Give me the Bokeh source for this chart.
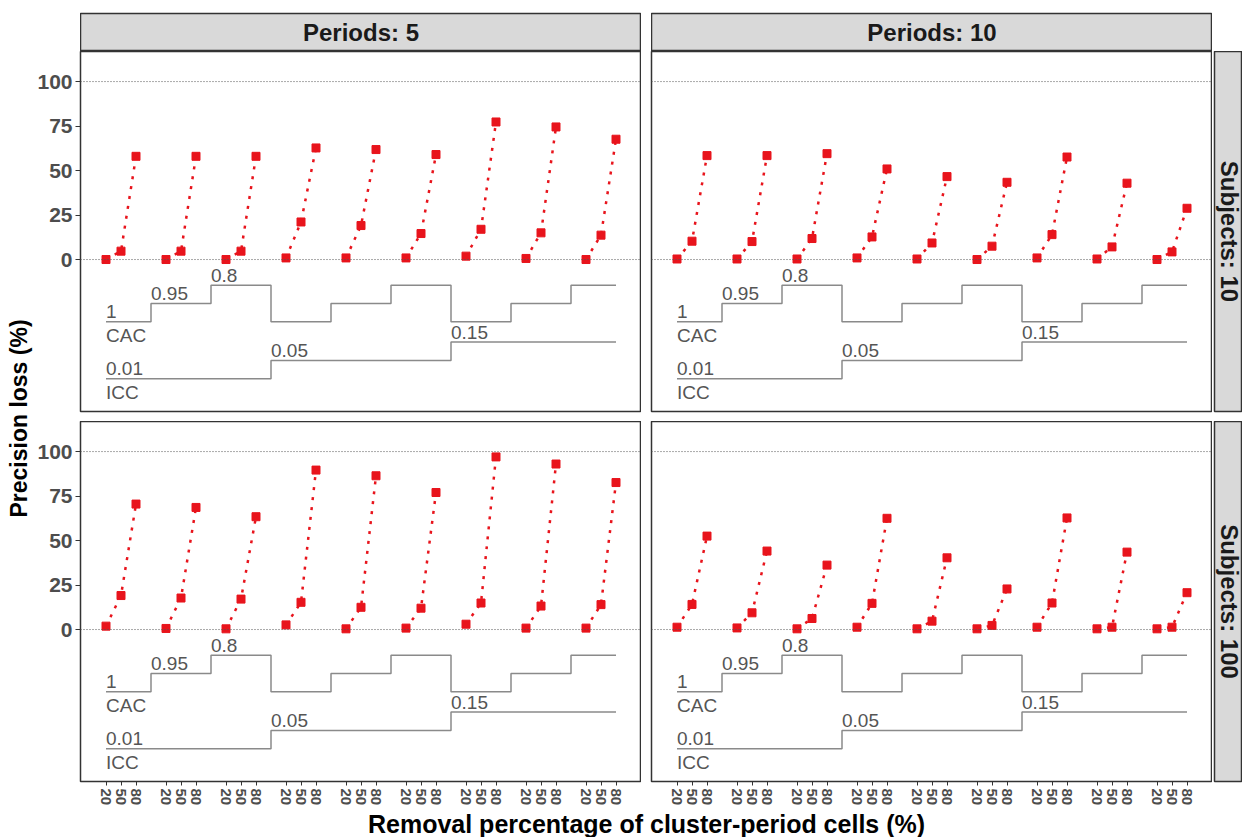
import math
from bokeh.plotting import figure
from bokeh.layouts import row, column, Spacer
from bokeh.models import FixedTicker, Span, Range1d
from bokeh.embed import file_html
from bokeh.resources import INLINE
from bokeh.core.properties import value

# ---------------- data ----------------
removal = ["20", "50", "80"]          # removal percentage of cluster-period cells
icc_values = ["0.01", "0.05", "0.15"]
cac_values = ["1", "0.95", "0.8"]
period_labels = ["Periods: 5", "Periods: 10"]
subject_labels = ["Subjects: 10", "Subjects: 100"]

# precision loss (%), ordered ICC (outer) x CAC (inner) x removal 20/50/80
loss_p5_s10 = [0.0, 4.7, 58.0,  0.0, 4.7, 58.0,  0.0, 4.7, 58.0,
               0.9, 21.1, 62.7, 0.9, 19.1, 61.8, 0.9, 14.6, 59.0,
               1.9, 17.0, 77.3, 0.6, 15.0, 74.5, 0.0, 13.7, 67.6]
loss_p10_s10 = [0.3, 10.3, 58.4, 0.3, 10.1, 58.4, 0.3, 11.8, 59.5,
                0.9, 12.7, 50.9, 0.3, 9.3, 46.6,  0.0, 7.5, 43.4,
                0.9, 14.0, 57.6, 0.3, 7.1, 42.9,  0.0, 4.3, 28.8]
loss_p5_s100 = [1.9, 19.1, 70.5, 0.6, 17.7, 68.6, 0.4, 17.1, 63.4,
                2.6, 15.3, 89.6, 0.4, 12.5, 86.4, 0.8, 12.0, 77.0,
                3.0, 14.9, 97.0, 0.8, 13.2, 93.0, 0.8, 14.0, 82.6]
loss_p10_s100 = [1.3, 14.1, 52.5, 0.9, 9.4, 44.1, 0.4, 6.2, 36.2,
                 1.3, 14.7, 62.5, 0.4, 4.7, 40.3, 0.4, 2.3, 22.8,
                 1.3, 14.9, 62.7, 0.4, 1.3, 43.5, 0.4, 1.3, 20.7]

# ---------------- layout / style constants ----------------
FONT = "Liberation Sans"
RED = "#e8141c"
N_IN = len(removal)
GROUP_W = N_IN + 1
n_groups = len(icc_values) * len(cac_values)
CAC_BASE, CAC_GAP = -35.0, 10.3
ICC_BASE, ICC_GAP = -67.0, 10.3
FW, FH = 561, 360
TOTAL_W, TOTAL_H = 1242, 837
YLAB_W = 33
LEFT_B = 80 - YLAB_W
TOP_H = 51
XLAB_H = 27

groups = [(i, c) for i in range(len(icc_values)) for c in range(len(cac_values))]
xpos = [GROUP_W * g + k for g in range(n_groups) for k in range(N_IN)]


def step_xy(levels, base, gap):
    xs = [0.0] + [GROUP_W * g - 1.0 for g in range(1, n_groups)] + [float(xpos[-1])]
    ys = [base + gap * l for l in levels] + [base + gap * levels[-1]]
    return xs, ys


def panel(loss, left_axis, bottom_axis, mb_left, mb_bottom):
    p = figure(frame_width=FW, frame_height=FH,
               x_range=Range1d(-1.7, xpos[-1] + 1.7), y_range=Range1d(-85.4, 116.9),
               output_backend="svg", toolbar_location=None,
               x_axis_location="below" if bottom_axis else None,
               y_axis_location="left" if left_axis else None,
               min_border_left=mb_left, min_border_right=0,
               min_border_top=0, min_border_bottom=mb_bottom)
    p.grid.visible = False
    p.outline_line_color = "#333333"
    p.outline_line_width = 1.5
    p.border_fill_color = "white"
    if left_axis:
        ax = p.yaxis[0]
        ax.ticker = FixedTicker(ticks=[0, 25, 50, 75, 100])
        ax.major_label_text_font = FONT
        ax.major_label_text_font_style = "bold"
        ax.major_label_text_font_size = "21px"
        ax.major_label_text_color = "#4d4d4d"
        ax.major_tick_out = 5
        ax.major_tick_in = 0
        ax.major_tick_line_color = "#333333"
        ax.minor_tick_line_color = None
        ax.axis_line_color = None
        ax.major_label_standoff = 3
    if bottom_axis:
        ax = p.xaxis[0]
        ax.ticker = FixedTicker(ticks=xpos)
        ax.major_label_overrides = {x: removal[i % N_IN] for i, x in enumerate(xpos)}
        ax.major_label_orientation = -math.pi / 2
        ax.major_label_text_font = FONT
        ax.major_label_text_font_style = "bold"
        ax.major_label_text_font_size = "15px"
        ax.major_label_text_color = "#4d4d4d"
        ax.major_tick_out = 4
        ax.major_tick_in = 0
        ax.major_tick_line_color = "#333333"
        ax.minor_tick_line_color = None
        ax.axis_line_color = None
        ax.major_label_standoff = 3
    for loc in (0, 100):
        p.add_layout(Span(location=loc, dimension="width", line_color="#555555",
                          line_dash="1 2", line_width=1))
    # step lines for the design parameters
    cx, cy = step_xy([c for _, c in groups], CAC_BASE, CAC_GAP)
    ix, iy = step_xy([i for i, _ in groups], ICC_BASE, ICC_GAP)
    p.step(cx, cy, mode="after", line_color="#8a8a8a", line_width=1.5)
    p.step(ix, iy, mode="after", line_color="#8a8a8a", line_width=1.5)
    # level labels (first occurrence of each value)
    lx, ly, lt = [], [], []
    for c in range(len(cac_values)):
        g = groups.index((0, c))
        lx.append(cx[g]); ly.append(CAC_BASE + CAC_GAP * c); lt.append(cac_values[c])
    for i in range(len(icc_values)):
        g = groups.index((i, 0))
        lx.append(ix[g]); ly.append(ICC_BASE + ICC_GAP * i); lt.append(icc_values[i])
    p.text(x=lx, y=ly, text=lt, text_font=value(FONT), text_font_size="19px",
           text_color="#555555", text_align="left", text_baseline="alphabetic", y_offset=-10)
    p.text(x=[0, 0], y=[CAC_BASE, ICC_BASE], text=["CAC", "ICC"], text_font=value(FONT),
           text_font_size="19px", text_color="#555555", text_align="left",
           text_baseline="alphabetic", y_offset=14)
    # series
    xs = [xpos[N_IN * g:N_IN * g + N_IN] for g in range(n_groups)]
    ys = [loss[N_IN * g:N_IN * g + N_IN] for g in range(n_groups)]
    p.multi_line(xs, ys, line_color=RED, line_width=2.5, line_dash="3 7")
    p.scatter(x=xpos, y=loss, marker="square", size=8, fill_color=RED, line_color=RED)
    return p


def strip_top(label):
    p = figure(frame_width=FW, frame_height=38, x_range=Range1d(0, 1), y_range=Range1d(0, 1),
               output_backend="svg", toolbar_location=None, x_axis_location=None,
               y_axis_location=None, min_border_left=0, min_border_right=0,
               min_border_top=TOP_H - 38, min_border_bottom=0)
    p.grid.visible = False
    p.background_fill_color = "#d9d9d9"
    p.border_fill_color = "white"
    p.outline_line_color = "#333333"
    p.outline_line_width = 1.5
    p.text(x=[0.5], y=[0.5], text=[label], text_font=value(FONT), text_font_style="bold",
           text_font_size="24px", text_color="#1a1a1a", text_align="center",
           text_baseline="middle")
    return p


def strip_right(label, mb_bottom):
    p = figure(frame_width=28, frame_height=FH, x_range=Range1d(0, 1), y_range=Range1d(0, 1),
               output_backend="svg", toolbar_location=None, x_axis_location=None,
               y_axis_location=None, min_border_left=2, min_border_right=0,
               min_border_top=0, min_border_bottom=mb_bottom)
    p.grid.visible = False
    p.background_fill_color = "#d9d9d9"
    p.border_fill_color = "white"
    p.outline_line_color = "#333333"
    p.outline_line_width = 1.5
    p.text(x=[0.55], y=[0.5], text=[label], text_font=value(FONT), text_font_style="bold",
           text_font_size="24px", text_color="#1a1a1a", text_align="center",
           text_baseline="middle", angle=-math.pi / 2)
    return p


ylab = figure(width=YLAB_W, height=TOTAL_H, x_range=Range1d(0, YLAB_W), y_range=Range1d(0, TOTAL_H),
              output_backend="svg", toolbar_location=None, x_axis_location=None,
              y_axis_location=None, min_border=0)
ylab.grid.visible = False
ylab.outline_line_color = None
ylab.text(x=[18], y=[TOTAL_H - 418], text=["Precision loss (%)"], text_font=value(FONT),
          text_font_style="bold", text_font_size="23px", text_color="black",
          text_align="center", text_baseline="middle", angle=math.pi / 2)

inner_w = TOTAL_W - YLAB_W
xlab = figure(width=inner_w, height=XLAB_H, x_range=Range1d(0, inner_w), y_range=Range1d(0, XLAB_H),
              output_backend="svg", toolbar_location=None, x_axis_location=None,
              y_axis_location=None, min_border=0)
xlab.grid.visible = False
xlab.outline_line_color = None
xlab.text(x=[646 - YLAB_W], y=[14], text=["Removal percentage of cluster-period cells (%)"],
          text_font=value(FONT), text_font_style="bold", text_font_size="25px",
          text_color="black", text_align="center", text_baseline="middle")

row_a = row(Spacer(width=LEFT_B, height=TOP_H), strip_top(period_labels[0]), Spacer(width=10, height=TOP_H),
            strip_top(period_labels[1]), Spacer(width=30, height=TOP_H), spacing=0)
row_b = row(panel(loss_p5_s10, True, False, LEFT_B, 10), panel(loss_p10_s10, False, False, 10, 10),
            strip_right(subject_labels[0], 10), spacing=0)
row_c = row(panel(loss_p5_s100, True, True, LEFT_B, 29), panel(loss_p10_s100, False, True, 10, 29),
            strip_right(subject_labels[1], 29), spacing=0)

layout = row(ylab, column(row_a, row_b, row_c, xlab, spacing=0), spacing=0)

open("out.html", "w").write(file_html(layout, INLINE))
